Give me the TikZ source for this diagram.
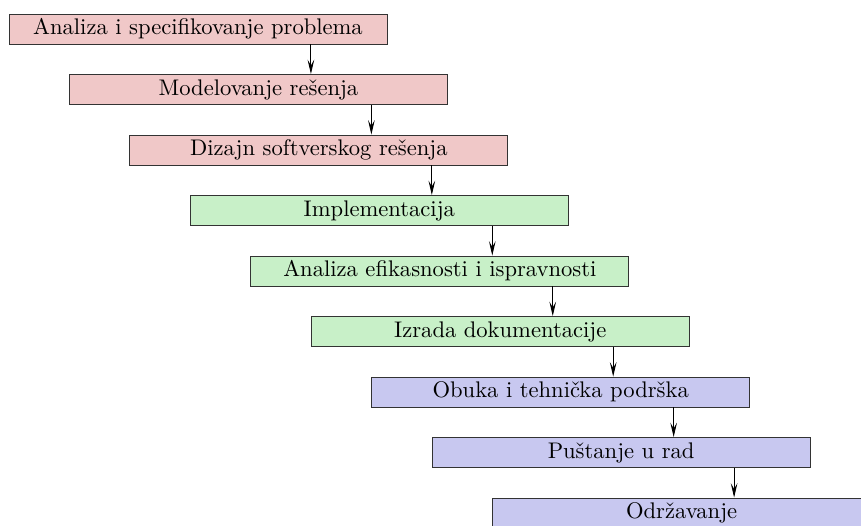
\documentclass[tikz,border=0pt]{standalone}
\usepackage{tikz}
\usetikzlibrary{arrows.meta,positioning}
\definecolor{faza1}{RGB}{240,200,200}
\definecolor{faza2}{RGB}{200,240,200}
\definecolor{faza3}{RGB}{200,200,240}
\tikzset{
    specifikacija/.style = {rectangle, minimum width=6cm, minimum height=13.55pt, inner sep=1pt, text centered, draw=black!80, fill=faza1},
    razvoj/.style = {rectangle, minimum width=6cm, minimum height=13.55pt, inner sep=1pt, text centered, draw=black!80, fill=faza2},
    isporuka/.style = {rectangle, minimum width=6cm, minimum height=13.55pt, inner sep=1pt, text centered, draw=black!80, fill=faza3},
    strelica/.style = {-{Stealth[length=6.5pt,width=3pt,inset=2.6pt]}, black}
}

\begin{document}
\begin{tikzpicture}[node distance=13.37pt and 0pt, font=\fontsize{10.2pt}{12pt}\selectfont]
    \useasboundingbox (0,0) rectangle (388.8pt,-237.1pt);
    \clip (0,0) rectangle (388.8pt,-237.1pt);

    \node [specifikacija] (analiza) at (89.4pt,-13.1pt) {Analiza i specifikovanje problema};
    \node [specifikacija, below=of analiza, xshift=27.3pt] (modelovanje) {Modelovanje rešenja};
    \node [specifikacija, below=of modelovanje, xshift=27.3pt] (dizajn) {Dizajn softverskog rešenja};
    \node [razvoj, below=of dizajn, xshift=27.3pt] (implementacija) {Implementacija};
    \node [razvoj, below=of implementacija, xshift=27.3pt] (efikasnost) {Analiza efikasnosti i ispravnosti};
    \node [razvoj, below=of efikasnost, xshift=27.3pt] (dokumentacija) {Izrada dokumentacije};
    \node [isporuka, below=of dokumentacija, xshift=27.3pt] (obuka) {Obuka i tehnička podrška};
    \node [isporuka, below=of obuka, xshift=27.3pt] (pustanje) {Puštanje u rad};
    \node [isporuka, below=of pustanje, xshift=27.3pt] (odrzavanje) {Održavanje};

    \foreach \a/\b in {analiza/modelovanje, modelovanje/dizajn, dizajn/implementacija,
                       implementacija/efikasnost, efikasnost/dokumentacija, dokumentacija/obuka,
                       obuka/pustanje, pustanje/odrzavanje}
        \draw [strelica] ([xshift=51pt]\a.south) -- ([xshift=51pt]\a.south |- \b.north);
\end{tikzpicture}
\end{document}
